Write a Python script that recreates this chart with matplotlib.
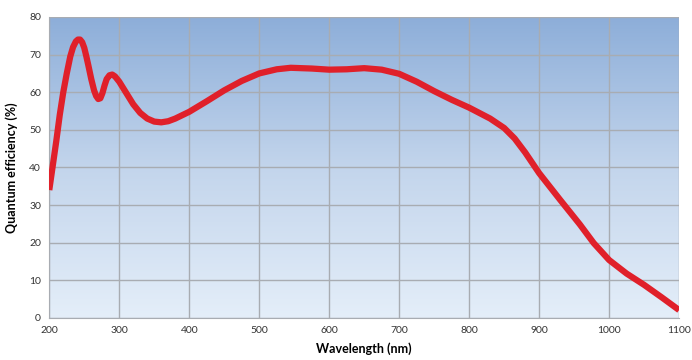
import numpy as np
import matplotlib.pyplot as plt
from matplotlib.colors import LinearSegmentedColormap

# Quantum efficiency curve
wavelength = [200, 205, 210, 215, 220, 225, 230, 234, 238, 241, 244, 247, 250, 253, 256,
              260, 264, 267, 270, 273, 276, 279, 282, 286, 290, 294, 300, 310, 320, 330,
              340, 350, 360, 370, 380, 400, 425, 450, 475, 500, 525, 545, 575, 600, 625,
              650, 675, 700, 725, 750, 775, 800, 830, 850, 865, 880, 900, 930, 958, 978, 1000,
              1025, 1050, 1075, 1100]
qe = [34, 40.5, 47, 54, 60, 65, 69.5, 72, 73.5, 74, 74, 73.3, 71.8, 69.5, 67,
      63.5, 60.5, 59, 58.2, 58.4, 59.8, 61.8, 63.5, 64.5, 64.7, 64.2, 62.8, 59.8, 56.8, 54.5,
      53, 52.2, 52, 52.3, 53, 54.8, 57.6, 60.5, 63, 65, 66.1, 66.5, 66.3, 66, 66.1,
      66.4, 66, 64.9, 62.8, 60.3, 58, 55.9, 53, 50.5, 47.7, 44, 38.5, 31.4, 24.9, 19.9, 15.4,
      11.8, 8.8, 5.5, 2.1]

xticks = list(range(200, 1101, 100))
yticks = list(range(0, 81, 10))

plt.rcParams['font.family'] = ['Lato', 'DejaVu Sans']

fig = plt.figure(figsize=(6.92, 3.6), dpi=100)
ax = fig.add_axes([0.0712, 0.1167, 0.9102, 0.8361])

# vertical gradient background
cmap = LinearSegmentedColormap.from_list('bg', ['#e4eef9', '#c3d5ec', '#8daed9'])
grad = np.linspace(0, 1, 256).reshape(-1, 1)
ax.imshow(grad, cmap=cmap, origin='lower', aspect='auto',
          extent=[200, 1100, 0, 80], zorder=0)

ax.plot(wavelength, qe, color='#e0202a', lw=4.5, solid_capstyle='butt',
        solid_joinstyle='round', zorder=3)

ax.set_xlim(200, 1100)
ax.set_ylim(0, 80)
ax.set_xticks(xticks)
ax.set_yticks(yticks)
ax.grid(True, color='#a8acb2', lw=1, zorder=1)
ax.set_axisbelow(False)
for s in ax.spines.values():
    s.set_visible(False)
ax.spines['bottom'].set_visible(True)
ax.spines['bottom'].set_color('#a8acb2')
ax.spines['left'].set_visible(True)
ax.spines['left'].set_color('#a8acb2')
ax.tick_params(length=0, labelsize=7.5, colors='#333333', pad=6)
ax.set_xlabel('Wavelength (nm)', fontsize=9, fontweight='bold', labelpad=5)
ax.set_ylabel('Quantum efficiency (%)', fontsize=9, fontweight='bold', labelpad=8)

fig.savefig('out.png', dpi=100)
